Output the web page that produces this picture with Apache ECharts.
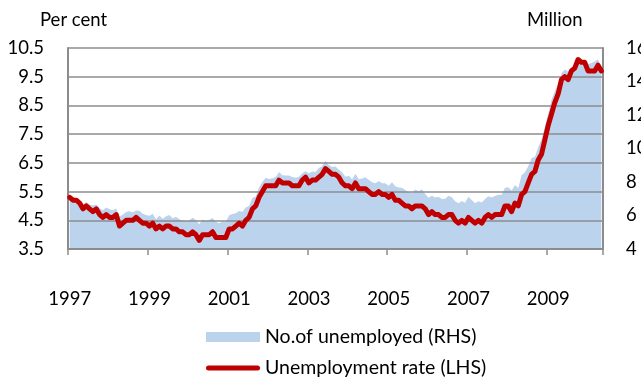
<!DOCTYPE html>
<html>
<head>
<meta charset="utf-8">
<script src="https://cdn.jsdelivr.net/npm/echarts@6/dist/echarts.min.js"></script>
<style>
html,body{margin:0;padding:0;background:#fff;}
#chart{width:641px;height:381px;}
</style>
</head>
<body>
<div id="chart"></div>
<script>
// Monthly, Jan 1997 - May 2010
const startYear = 1997;
const monthCount = 161;

// Unemployment rate, per cent (LHS)
const rate1997 = [5.3,5.2,5.2,5.1,4.9,5.0,4.9,4.8,4.9,4.7,4.6,4.7];
const rate1998 = [4.6,4.6,4.7,4.3,4.4,4.5,4.5,4.5,4.6,4.5,4.4,4.4];
const rate1999 = [4.3,4.4,4.2,4.3,4.2,4.3,4.3,4.2,4.2,4.1,4.1,4.0];
const rate2000 = [4.0,4.1,4.0,3.8,4.0,4.0,4.0,4.1,3.9,3.9,3.9,3.9];
const rate2001 = [4.2,4.2,4.3,4.4,4.3,4.5,4.6,4.9,5.0,5.3,5.5,5.7];
const rate2002 = [5.7,5.7,5.7,5.9,5.8,5.8,5.8,5.7,5.7,5.7,5.9,6.0];
const rate2003 = [5.8,5.9,5.9,6.0,6.1,6.3,6.2,6.1,6.1,6.0,5.8,5.7];
const rate2004 = [5.7,5.6,5.8,5.6,5.6,5.6,5.5,5.4,5.4,5.5,5.4,5.4];
const rate2005 = [5.3,5.4,5.2,5.2,5.1,5.0,5.0,4.9,5.0,5.0,5.0,4.9];
const rate2006 = [4.7,4.8,4.7,4.7,4.6,4.6,4.7,4.7,4.5,4.4,4.5,4.4];
const rate2007 = [4.6,4.5,4.4,4.5,4.4,4.6,4.7,4.6,4.7,4.7,4.7,5.0];
const rate2008 = [5.0,4.8,5.1,5.0,5.4,5.5,5.8,6.1,6.2,6.6,6.8,7.3];
const rate2009 = [7.8,8.2,8.6,8.9,9.4,9.5,9.4,9.7,9.8,10.1,10.0,10.0];
const rate2010 = [9.7,9.7,9.7,9.9,9.7];

// Number of unemployed, million (RHS)
const unemp1997 = [7.16,7.10,7.00,6.87,6.66,6.80,6.66,6.61,6.66,6.45,6.31,6.48];
const unemp1998 = [6.37,6.31,6.42,5.94,6.05,6.21,6.26,6.18,6.30,6.28,6.10,6.03];
const unemp1999 = [5.98,6.11,5.78,6.00,5.80,5.95,6.03,5.84,5.92,5.78,5.72,5.65];
const unemp2000 = [5.71,5.86,5.73,5.48,5.76,5.65,5.75,5.85,5.63,5.53,5.64,5.63];
const unemp2001 = [6.02,6.09,6.14,6.27,6.23,6.48,6.58,7.04,7.14,7.69,8.00,8.26];
const unemp2002 = [8.18,8.22,8.30,8.60,8.40,8.39,8.39,8.30,8.25,8.31,8.52,8.64];
const unemp2003 = [8.52,8.62,8.59,8.84,8.96,9.27,9.01,8.90,8.92,8.73,8.58,8.32];
const unemp2004 = [8.37,8.17,8.49,8.17,8.21,8.29,8.14,7.99,7.93,8.06,7.93,7.93];
const unemp2005 = [7.78,7.98,7.74,7.67,7.65,7.52,7.41,7.35,7.55,7.45,7.57,7.28];
const unemp2006 = [7.06,7.18,7.07,7.12,6.98,7.00,7.18,7.09,6.85,6.73,6.87,6.76];
const unemp2007 = [7.12,6.93,6.73,6.85,6.77,6.98,7.15,7.07,7.17,7.24,7.24,7.65];
const unemp2008 = [7.69,7.50,7.82,7.64,8.40,8.58,8.94,9.44,9.49,10.07,10.54,11.29];
const unemp2009 = [12.06,12.90,13.43,13.85,14.50,14.71,14.60,14.81,15.01,15.35,15.22,15.10];
const unemp2010 = [15.05,15.11,15.20,15.33,14.85];

// Axis labels
const leftAxisTitle = 'Per cent';
const rightAxisTitle = 'Million';
const seriesNames = ['No.of unemployed (RHS)', 'Unemployment rate (LHS)'];

const rateValues = [].concat(rate1997,rate1998,rate1999,rate2000,rate2001,rate2002,rate2003,
  rate2004,rate2005,rate2006,rate2007,rate2008,rate2009,rate2010);
const unempValues = [].concat(unemp1997,unemp1998,unemp1999,unemp2000,unemp2001,unemp2002,unemp2003,
  unemp2004,unemp2005,unemp2006,unemp2007,unemp2008,unemp2009,unemp2010);

const months = [];
for (let i = 0; i < monthCount; i++) {
  const y = startYear + Math.floor(i / 12);
  const m = (i % 12) + 1;
  months.push(y + '-' + (m < 10 ? '0' + m : m));
}

const FONT = 'Lato, "Open Sans", sans-serif';
const FS = 18.5;
const GRID_COLOR = '#8c8c8c';
const LINE_ICON = 'path://M0,0 L0,0 M2.5,2.5 L51.5,2.5 A2.5,2.5 0 0 1 51.5,7.5 L2.5,7.5 A2.5,2.5 0 0 1 2.5,2.5 Z M54,10 L54,10';

const chart = echarts.init(document.getElementById('chart'), null, {renderer: 'canvas'});
chart.setOption({
  animation: false,
  backgroundColor: '#ffffff',
  textStyle: {fontFamily: FONT},
  grid: {left: 68, right: 38, top: 48, bottom: 132, containLabel: false, outerBoundsMode: 'none'},
  graphic: [
    {type: 'text', left: 40, top: 11, style: {text: leftAxisTitle, font: FS + 'px ' + FONT, fill: '#000'}},
    {type: 'text', left: 527, top: 11, style: {text: rightAxisTitle, font: FS + 'px ' + FONT, fill: '#000'}}
  ],
  legend: {
    orient: 'vertical',
    left: 206,
    top: 327,
    padding: 0,
    itemWidth: 54,
    itemHeight: 10,
    itemGap: 11,
    textStyle: {fontFamily: FONT, fontSize: 19.5, color: '#000', lineHeight: 20},
    data: [
      {name: seriesNames[0], icon: 'rect'},
      {name: seriesNames[1], icon: LINE_ICON}
    ]
  },
  xAxis: {
    type: 'category',
    data: months,
    boundaryGap: true,
    z: 2,
    axisLine: {show: true, lineStyle: {color: GRID_COLOR, width: 2}},
    axisTick: {show: true, interval: 23, length: 6, lineStyle: {color: GRID_COLOR, width: 1.5}},
    axisLabel: {
      interval: 23,
      margin: 41,
      fontFamily: FONT,
      fontSize: FS,
      color: '#000',
      formatter: function (v) { return v.slice(0, 4); }
    },
    splitLine: {show: false}
  },
  yAxis: [
    {
      type: 'value',
      min: 3.5,
      max: 10.5,
      interval: 1,
      z: 2,
      axisLine: {show: true, lineStyle: {color: GRID_COLOR, width: 2}},
      axisTick: {show: false},
      axisLabel: {margin: 24, fontFamily: FONT, fontSize: FS, color: '#000',
        formatter: function (v) { return v.toFixed(1); }},
      splitLine: {show: true, lineStyle: {color: GRID_COLOR, width: 1.5}}
    },
    {
      type: 'value',
      min: 4,
      max: 16,
      interval: 2,
      z: 2,
      position: 'right',
      axisLine: {show: true, lineStyle: {color: GRID_COLOR, width: 2}},
      axisTick: {show: false},
      axisLabel: {margin: 23, fontFamily: FONT, fontSize: FS, color: '#000'},
      splitLine: {show: false}
    }
  ],
  series: [
    {
      name: seriesNames[0],
      type: 'line',
      yAxisIndex: 1,
      data: unempValues,
      z: 1,
      symbol: 'none',
      color: '#bcd3ee',
      lineStyle: {width: 0, color: '#bcd3ee'},
      areaStyle: {color: '#bcd3ee', opacity: 1},
      itemStyle: {color: '#bcd3ee'}
    },
    {
      name: seriesNames[1],
      type: 'line',
      yAxisIndex: 0,
      data: rateValues,
      z: 3,
      symbol: 'none',
      color: '#c00000',
      lineStyle: {width: 5, color: '#c00000', join: 'round', cap: 'round'},
      itemStyle: {color: '#c00000'}
    }
  ]
});
</script>
</body>
</html>
